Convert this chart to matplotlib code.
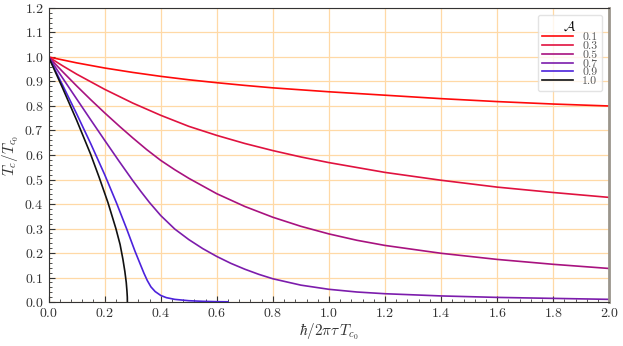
import matplotlib
matplotlib.use("Agg")
import matplotlib.pyplot as plt
from matplotlib.ticker import MultipleLocator

plt.rcParams['font.family'] = 'serif'
plt.rcParams['font.serif'] = ['cmr10']
plt.rcParams['mathtext.fontset'] = 'cm'
plt.rcParams['axes.formatter.use_mathtext'] = True

# values, one curve per anisotropy A
anis = ['0.1', '0.3', '0.5', '0.7', '0.9', '1.0']
colors = ['#ff0a0a', '#e0123f', '#a8127f', '#7c1cac', '#4c22dc', '#111111']

x01 = [0, 0.1, 0.2, 0.3, 0.4, 0.5, 0.6, 0.7, 0.8, 1.0, 1.2, 1.4, 1.6, 1.8, 2.0]
y01 = [1.0, 0.976, 0.955, 0.937, 0.921, 0.907, 0.895, 0.884, 0.874, 0.858, 0.844, 0.830, 0.818, 0.808, 0.800]

x03 = [0, 0.05, 0.1, 0.2, 0.3, 0.4, 0.5, 0.6, 0.7, 0.8, 0.9, 1.0, 1.2, 1.4, 1.6, 1.8, 2.0]
y03 = [1.0, 0.964, 0.930, 0.868, 0.812, 0.762, 0.717, 0.680, 0.647, 0.618, 0.592, 0.569, 0.529, 0.497, 0.469, 0.447, 0.427]

x05 = [0, 0.05, 0.1, 0.15, 0.2, 0.254, 0.3, 0.35, 0.4, 0.45, 0.5, 0.6, 0.7, 0.8, 0.9,
       1.0, 1.1, 1.2, 1.4, 1.6, 1.8, 2.0]
y05 = [1.0, 0.940, 0.882, 0.826, 0.772, 0.716, 0.670, 0.622, 0.578, 0.540, 0.505, 0.442, 0.390, 0.346, 0.309,
       0.278, 0.252, 0.231, 0.199, 0.174, 0.154, 0.137]

x07 = [0, 0.05, 0.1, 0.15, 0.2, 0.25, 0.3, 0.33, 0.36, 0.4, 0.45, 0.5, 0.55, 0.6, 0.65, 0.7, 0.75,
       0.8, 0.9, 1.0, 1.1, 1.2, 1.4, 1.6, 1.8, 2.0]
y07 = [1.0, 0.914, 0.829, 0.744, 0.660, 0.577, 0.496, 0.450, 0.406, 0.353, 0.298, 0.255, 0.218, 0.186, 0.158, 0.134, 0.113,
       0.095, 0.069, 0.052, 0.041, 0.034, 0.025, 0.019, 0.015, 0.011]

x09 = [0, 0.05, 0.1, 0.15, 0.2, 0.242, 0.278, 0.308, 0.325, 0.340, 0.352, 0.365, 0.38, 0.40, 0.42,
       0.45, 0.5, 0.55, 0.6, 0.64]
y09 = [1.0, 0.885, 0.768, 0.647, 0.520, 0.405, 0.300, 0.208, 0.160, 0.118, 0.088, 0.062, 0.043, 0.027, 0.018,
       0.011, 0.0055, 0.003, 0.0015, 0.001]

x10 = [0, 0.05, 0.1, 0.15, 0.18, 0.212, 0.240, 0.255, 0.265, 0.272, 0.277, 0.2795, 0.2808, 0.281]
y10 = [1.0, 0.873, 0.742, 0.603, 0.510, 0.405, 0.300, 0.235, 0.175, 0.125, 0.080, 0.045, 0.020, 0.0]

xs = [x01, x03, x05, x07, x09, x10]
ys = [y01, y03, y05, y07, y09, y10]

fig = plt.figure(figsize=(6.23, 3.46), dpi=100)
ax = fig.add_axes([0.078, 0.127, 0.900, 0.850])

for x, y, lab, c in zip(xs, ys, anis, colors):
    ax.plot(x, y, color=c, lw=1.2, label=lab)

ax.set_xlim(0, 2.0)
ax.set_ylim(0, 1.2)
ax.xaxis.set_major_locator(MultipleLocator(0.2))
ax.xaxis.set_minor_locator(MultipleLocator(0.04))
ax.yaxis.set_major_locator(MultipleLocator(0.1))
ax.yaxis.set_minor_locator(MultipleLocator(0.02))
ax.tick_params(which='both', direction='in', labelsize=10, labelcolor='#333333', color='#333333')
ax.tick_params(which='major', length=4)
ax.tick_params(which='minor', length=2)
ax.grid(True, which='major', color='#ffd9a6', lw=0.9)
ax.set_axisbelow(True)

for s in ['left', 'bottom', 'top']:
    ax.spines[s].set_color('#333333')
ax.spines['right'].set_color('#9a958c')
ax.spines['right'].set_linewidth(2)

ax.set_xlabel(r'$\hbar/2\pi\tau\,T_{c_0}$', fontsize=11, color='#333333', labelpad=1)
ax.set_ylabel(r'$T_c/T_{c_0}$', fontsize=11, color='#333333', labelpad=2)

leg = ax.legend(title=r'$\mathcal{A}$', loc='upper right', fontsize=8.5,
                labelspacing=-0.12, handlelength=2.6, handletextpad=0.8,
                borderaxespad=0.6, title_fontsize=10)
for t in leg.get_texts():
    t.set_color('#555555')
leg.get_frame().set_edgecolor('#dddddd')

fig.savefig('out.png', dpi=100)
